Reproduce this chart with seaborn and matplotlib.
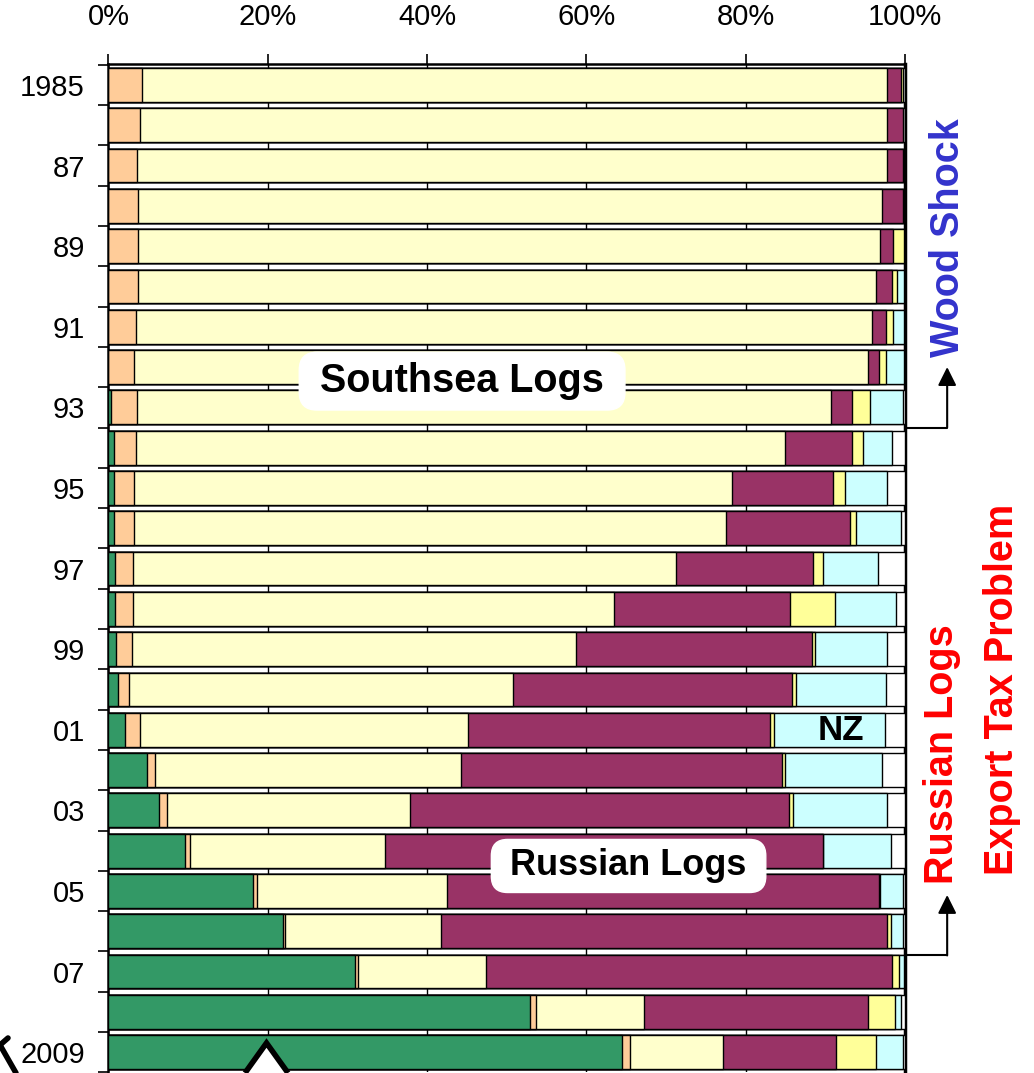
import numpy as np
import pandas as pd
import matplotlib
matplotlib.use('Agg')
import matplotlib.pyplot as plt
from matplotlib.patches import Polygon
from matplotlib.lines import Line2D
import seaborn as sns

# ── Data: share of log supply by origin (%) ─────────────────
years = ['1985', '1986', '1987', '1988', '1989', '1990', '1991', '1992', '1993',
         '1994', '1995', '1996', '1997', '1998', '1999', '2000', '2001', '2002',
         '2003', '2004', '2005', '2006', '2007', '2008', '2009']
year_labels = ['1985', '', '87', '', '89', '', '91', '', '93', '', '95', '', '97',
               '', '99', '', '01', '', '03', '', '05', '', '07', '', '2009']

domestic = [0, 0, 0, 0, 0, 0, 0, 0, 0.3, 0.7, 0.65, 0.65, 0.85, 0.85, 1.0, 1.2,
            2.1, 4.8, 6.3, 9.6, 18.1, 21.9, 31.0, 52.9, 64.5]
peach = [4.2, 4.0, 3.6, 3.7, 3.7, 3.7, 3.5, 3.2, 3.3, 2.7, 2.55, 2.55, 2.25, 2.25,
         1.9, 1.4, 1.9, 1.1, 1.0, 0.6, 0.6, 0.3, 0.3, 0.8, 1.0]
southsea = [93.5, 93.7, 94.1, 93.4, 93.2, 92.7, 92.4, 92.1, 87.1, 81.6, 75.1, 74.3,
            68.1, 60.4, 55.8, 48.2, 41.1, 38.4, 30.5, 24.5, 23.8, 19.5, 16.1, 13.5, 11.7]
russia = [1.8, 2.1, 2.0, 2.6, 1.6, 2.0, 1.7, 1.5, 2.6, 8.3, 12.7, 15.6, 17.3, 22.1,
          29.6, 35.0, 37.9, 40.3, 47.7, 55.0, 54.2, 56.1, 51.0, 28.2, 14.1]
yellow = [0.3, 0, 0.15, 0.15, 1.4, 0.6, 0.9, 0.8, 2.3, 1.4, 1.5, 0.8, 1.2, 5.6, 0.4,
          0.5, 0.6, 0.3, 0.5, 0, 0.2, 0.4, 0.8, 3.3, 5.1]
nz = [0, 0, 0, 0, 0, 0.9, 1.4, 2.3, 4.1, 3.7, 5.2, 5.6, 6.9, 7.7, 9.0, 11.3, 13.9,
      12.2, 11.7, 8.5, 2.8, 1.6, 0.7, 0.8, 3.4]
other = [0.2, 0.2, 0.15, 0.15, 0.1, 0.1, 0.1, 0.1, 0.3, 1.6, 2.3, 0.5, 3.4, 1.1, 2.3,
         2.4, 2.5, 2.9, 2.3, 1.8, 0.3, 0.2, 0.1, 0.5, 0.2]

series = [domestic, peach, southsea, russia, yellow, nz, other]
colors = ['#339966', '#FFCC99', '#FFFFCC', '#993366', '#FFFF99', '#CCFFFF', '#FFFFFF']

df = pd.DataFrame({'year': years})
cum = np.cumsum(np.array(series, dtype=float), axis=0)
for i in range(len(series)):
    df[f'c{i}'] = cum[i]

# ── Figure ──────────────────────────────────────────────────
sns.set_style('white')
plt.rcParams['font.family'] = ['Liberation Sans', 'DejaVu Sans']
plt.rcParams.update({'text.color': 'black', 'xtick.color': 'black',
                     'ytick.color': 'black', 'axes.labelcolor': 'black'})

fig = plt.figure(figsize=(10.34, 10.73), dpi=100)
ax = fig.add_axes([0.1049, 0.00065, 0.7703, 0.9397])

# stacked bars: draw the cumulative totals from the longest to the shortest
for i in reversed(range(len(series))):
    sns.barplot(data=df, x=f'c{i}', y='year', order=years, color=colors[i],
                saturation=1, edgecolor='black', linewidth=1.0, width=0.84,
                orient='h', errorbar=None, ax=ax, zorder=3)

ax.set_xlim(0, 100)
ax.set_ylim(24.5, -0.52)
ax.set_xlabel('')
ax.set_ylabel('')

# x axis on top
ax.xaxis.set_ticks_position('top')
ax.xaxis.set_label_position('top')
ax.set_xticks([0, 20, 40, 60, 80, 100])
ax.set_xticklabels(['0%', '20%', '40%', '60%', '80%', '100%'], fontsize=21)
ax.tick_params(axis='x', direction='out', length=7.5, width=1.2, pad=16,
               top=True, bottom=False, colors='black')
ax.xaxis.grid(True, color='black', linewidth=1.0)
ax.set_axisbelow(True)

# y axis: labels at bar centres, ticks between bars
ax.set_yticks(range(len(years)))
ax.set_yticklabels(year_labels, fontsize=21)
ax.tick_params(axis='y', which='major', length=0, pad=17, colors='black')
ax.set_yticks(np.arange(-0.5, len(years), 1.0), minor=True)
ax.tick_params(axis='y', which='minor', direction='out', length=7.5, width=1.2,
               left=True, colors='black')

for side in ['left', 'top', 'right']:
    ax.spines[side].set_color('black')
    ax.spines[side].set_linewidth(1.8)
ax.spines['right'].set_linewidth(2.5)
ax.spines['bottom'].set_visible(False)

# ── Annotations ─────────────────────────────────────────────
box = dict(boxstyle='round,pad=0.25,rounding_size=0.45', fc='white', ec='white')
ax.text(44.4, 7.35, ' Southsea Logs ', fontsize=28.5, fontweight='bold',
        color='black', ha='center', va='center', bbox=box, zorder=6)
ax.text(65.3, 19.38, ' Russian Logs ', fontsize=26, fontweight='bold',
        color='black', ha='center', va='center', bbox=box, zorder=6)
ax.text(92.0, 16.03, 'NZ', fontsize=25, fontweight='bold', color='black',
        ha='center', va='center', zorder=6)

ax.text(105.4, 3.8, 'Wood Shock', fontsize=28.5, fontweight='bold', color='#3333CC',
        rotation=90, ha='center', va='center', clip_on=False)
ax.text(104.7, 16.6, 'Russian Logs', fontsize=28.5, fontweight='bold', color='#FF0000',
        rotation=90, ha='center', va='center', clip_on=False)
ax.text(112.2, 15.0, 'Export Tax Problem', fontsize=28.5, fontweight='bold',
        color='#FF0000', rotation=90, ha='center', va='center', clip_on=False)

# elbow arrows from the bars to the side notes
for y_start, y_tip in [(8.5, 7.0), (21.6, 20.1)]:
    ax.plot([100, 105.3], [y_start, y_start], color='black', lw=1.5, clip_on=False)
    ax.annotate('', xy=(105.3, y_tip), xytext=(105.3, y_start),
                arrowprops=dict(arrowstyle='-|>', color='black', lw=1.5,
                                mutation_scale=28, shrinkA=0, shrinkB=0),
                annotation_clip=False)

# cropped pointer shapes at the bottom edge
W, H = 1034.0, 1073.0
tri = Polygon([(245 / W, 0.0), (266.5 / W, (H - 1043) / H), (288 / W, 0.0)],
              closed=False, fc='white', ec='black', lw=4, transform=fig.transFigure)
fig.patches.append(tri)
fig.lines.append(Line2D([0 / W, 16 / W], [(H - 1045) / H, (H - 1073) / H],
                        color='black', lw=4, transform=fig.transFigure))
fig.lines.append(Line2D([0 / W, 8 / W], [(H - 1045) / H, (H - 1038) / H],
                        color='black', lw=4, transform=fig.transFigure))

fig.savefig('out.png', dpi=100)
